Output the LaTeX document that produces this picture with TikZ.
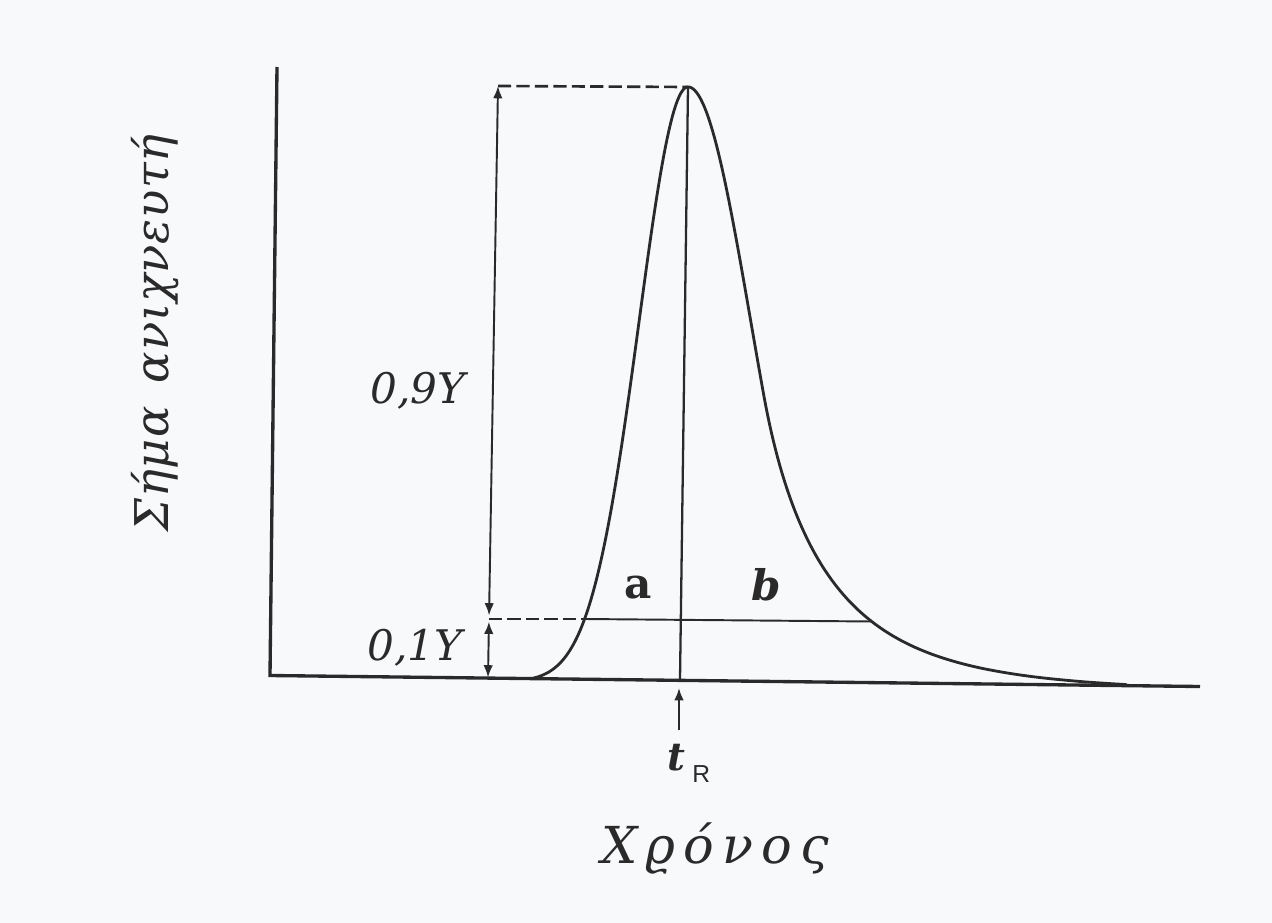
\documentclass[tikz,border=0pt]{standalone}
\usepackage{fontspec}
\setmainfont{DejaVu Serif}
\newfontfamily\rsans{Liberation Sans}
\newfontfamily\grlab[LetterSpace=16]{DejaVu Serif}
\newfontfamily\grvert[LetterSpace=2]{DejaVu Serif}
\usetikzlibrary{arrows.meta}
\definecolor{ink}{HTML}{2A2A2A}
\definecolor{paper}{HTML}{F8F9FB}
\begin{document}
\begin{tikzpicture}[x=0.02cm,y=-0.02cm,
  declare function={
    lx(\s)=688-48.9*\s;
    rx(\s)=688+63*\s+58*(max(\s-1.2,0))^2+4*(max(\s-1.2,0))^3;
    hy(\s,\x)=684+(\x-688)*0.0118-597*exp(-\s*\s/2);
  },
  axisline/.style={line width=1.9pt, draw=ink},
  curveline/.style={line width=1.6pt, draw=ink, line join=round},
  thinline/.style={line width=1.1pt, draw=ink},
  rline/.style={line width=1.3pt, draw=ink},
  dashline/.style={line width=1.5pt, draw=ink, dash pattern=on 7.5pt off 3pt},
  tip/.style={-{Latex[length=7pt,width=5.4pt]}},
  dimarrow/.style={thinline, {Latex[length=7pt,width=5.4pt]}-{Latex[length=7pt,width=5.4pt]}},
  lab/.style={inner sep=0pt, text=ink},
]
\fill[paper] (0,0) rectangle (1272,923);
\useasboundingbox (0,0) rectangle (1272,923);

% named points
\coordinate (Ytop) at (277,67);
\coordinate (O) at (270,675.5);
\coordinate (Xend) at (1200,686.5);
\coordinate (Ptop) at (688,87);
\coordinate (tRbase) at (680,680);
\coordinate (Atop) at (498,86);
\coordinate (Amid) at (489,619);
\coordinate (Abot) at (488,677.5);
\coordinate (Lten) at (585,619);
\coordinate (Rten) at (872,621.5);
\coordinate (tRtail) at (679,730);
\coordinate (tRtip) at (679,688);

% axes
\draw[axisline] (Ytop) -- (O) -- (Xend);

% peak
\draw[curveline]
  plot[domain=3.16:0, samples=90, variable=\s] ({lx(\s)}, {hy(\s,lx(\s))})
  -- plot[domain=0:3.12, samples=120, variable=\s] ({rx(\s)}, {hy(\s,rx(\s))});

% retention line
\draw[rline] (Ptop) -- (tRbase);

% guide lines
\draw[dashline] (Atop) -- (Ptop);
\draw[dashline] (Amid) -- (Lten);
\draw[thinline] (Lten) -- (Rten);

% dimension arrows
\draw[dimarrow, shorten >=2pt] (Atop) -- (Amid);
\draw[dimarrow, shorten <=1.5pt] (Amid) -- (Abot);

% tR arrow
\draw[thinline, tip] (tRtail) -- (tRtip);

% labels
\node[lab, anchor=base, font=\fontsize{24}{28}\selectfont\itshape] (l09) at (418,403) {0,9Y};
\node[lab, anchor=base, font=\fontsize{24}{28}\selectfont\itshape] (l01) at (415,660) {0,1Y};
\node[lab, anchor=base, font=\fontsize{24}{28}\selectfont\bfseries] (la) at (638,598) {a};
\node[lab, anchor=base, font=\fontsize{24}{28}\selectfont\bfseries\itshape] (lb) at (766,600) {b};
\node[lab, anchor=base, font=\fontsize{22}{26}\selectfont\bfseries\itshape] (lt) at (676,770) {t};
\node[lab, anchor=base west, font=\fontsize{14}{16}\selectfont\rsans] (lR) at (692,782) {R};
\node[lab, anchor=base, font=\fontsize{29}{32}\selectfont\grlab\itshape] (xlab) at (715,863) {Χϱόνος};
\node[lab, anchor=base, rotate=90, font=\fontsize{26.5}{30}\selectfont\grvert\itshape] (ylab) at (168,333) {Σήμα\hspace{0.5em}ανιχνευτή};
\end{tikzpicture}
\end{document}
